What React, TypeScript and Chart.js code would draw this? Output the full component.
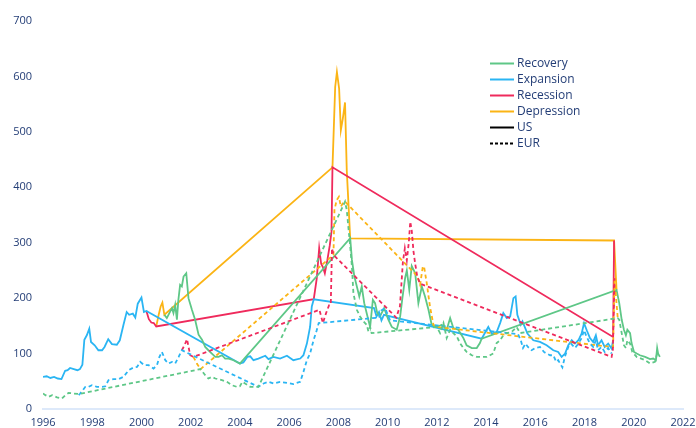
import { useEffect, useRef } from 'react';
import { Chart, registerables } from 'chart.js';

Chart.register(...registerables);

type Pt = [number, number];

// ---- data: [year, index value] ----
const usExpansion: Pt[] = [
  [1996.0, 58], [1996.15, 59], [1996.3, 56], [1996.45, 58], [1996.6, 55], [1996.75, 54], [1996.9, 69], [1997.0, 70],
  [1997.1, 74], [1997.25, 72], [1997.4, 70], [1997.5, 72], [1997.6, 80], [1997.68, 125], [1997.78, 133], [1997.88, 145],
  [1997.95, 121], [1998.1, 115], [1998.25, 106], [1998.4, 106], [1998.5, 112], [1998.65, 126], [1998.8, 117], [1999.0, 116],
  [1999.12, 124], [1999.27, 152], [1999.4, 175], [1999.5, 170], [1999.65, 172], [1999.75, 165], [1999.85, 190], [2000.0, 201],
  [2000.1, 175], [2000.2, 177],
  [2004.0, 82], [2004.14, 84], [2004.3, 94], [2004.42, 95], [2004.55, 88], [2004.75, 91], [2005.03, 96], [2005.16, 90],
  [2005.36, 94], [2005.63, 91], [2005.91, 96], [2006.17, 88], [2006.45, 91], [2006.58, 97], [2006.72, 118], [2006.85, 148],
  [2006.92, 185], [2007.0, 198],
  [2009.45, 182], [2009.55, 167], [2009.65, 175], [2009.75, 160], [2009.85, 170],
  [2013.82, 127], [2014.09, 148], [2014.23, 136], [2014.43, 139], [2014.57, 155], [2014.7, 173], [2014.84, 164], [2014.98, 167],
  [2015.11, 200], [2015.2, 203], [2015.27, 170], [2015.41, 152], [2015.48, 158], [2015.68, 136], [2015.92, 124], [2016.19, 121],
  [2016.46, 115], [2016.73, 106], [2016.93, 103], [2017.07, 94], [2017.21, 100], [2017.34, 115], [2017.48, 124], [2017.61, 118],
  [2017.75, 124], [2017.88, 136], [2017.98, 155], [2018.09, 142], [2018.22, 128], [2018.35, 121], [2018.46, 133], [2018.55, 115],
  [2018.69, 124], [2018.82, 112], [2018.96, 118], [2019.1, 109], [2019.16, 124],
];

const usRecession: Pt[] = [
  [2000.2, 177], [2000.3, 162], [2000.4, 156], [2000.5, 155], [2000.6, 149],
  [2007.0, 198], [2007.12, 235], [2007.22, 290], [2007.3, 262], [2007.38, 255], [2007.45, 245], [2007.55, 268], [2007.65, 295],
  [2007.72, 320], [2007.76, 436],
  [2019.16, 130], [2019.2, 304],
];

const usDepression: Pt[] = [
  [2000.6, 149], [2000.7, 170], [2000.78, 185], [2000.85, 192], [2000.93, 170],
  [2007.76, 436], [2007.87, 581], [2007.94, 608], [2008.03, 578], [2008.1, 503], [2008.18, 524], [2008.27, 553], [2008.34, 431],
  [2008.48, 308],
  [2019.2, 304], [2019.3, 215],
];

const usRecovery: Pt[] = [
  [2000.93, 170], [2001.03, 164], [2001.17, 176], [2001.24, 182], [2001.3, 173], [2001.37, 188], [2001.44, 161], [2001.5, 197],
  [2001.57, 224], [2001.64, 221], [2001.71, 239], [2001.82, 245], [2001.91, 200], [2002.05, 179], [2002.18, 161], [2002.32, 134],
  [2002.46, 125], [2002.59, 112], [2002.72, 106], [2002.86, 100], [2003.0, 94], [2003.13, 94], [2003.27, 97], [2003.4, 91],
  [2003.54, 91], [2003.74, 88], [2004.0, 82],
  [2008.48, 308], [2008.55, 269], [2008.65, 239], [2008.75, 221], [2008.85, 203], [2008.95, 221], [2009.05, 191], [2009.22, 160],
  [2009.29, 148], [2009.4, 197], [2009.49, 191], [2009.58, 173], [2009.69, 167], [2009.86, 182], [2010.03, 161], [2010.17, 148],
  [2010.37, 143], [2010.51, 167], [2010.6, 200], [2010.71, 236], [2010.78, 250], [2010.88, 215], [2010.98, 258], [2011.12, 245],
  [2011.25, 191], [2011.39, 221], [2011.52, 203], [2011.66, 179], [2011.79, 152], [2012.0, 148], [2012.2, 152], [2012.4, 143],
  [2012.54, 164], [2012.67, 146], [2012.87, 143], [2013.08, 128], [2013.21, 115], [2013.42, 110], [2013.62, 110], [2013.75, 119],
  [2013.82, 127],
  [2019.3, 215], [2019.41, 191], [2019.51, 161], [2019.6, 143], [2019.68, 133], [2019.74, 143], [2019.85, 137], [2019.91, 119],
  [2020.01, 103], [2020.12, 100], [2020.25, 97], [2020.46, 94], [2020.66, 90], [2020.79, 91], [2020.9, 88], [2020.95, 110],
  [2020.99, 100], [2021.06, 94],
];

const eurRecovery: Pt[] = [
  [1996.0, 28], [1996.1, 25], [1996.23, 22], [1996.37, 25], [1996.57, 21], [1996.77, 19], [1996.91, 25], [1997.04, 29],
  [1997.24, 28], [1997.45, 27],
  [2002.4, 72], [2002.59, 61], [2002.72, 55], [2002.86, 58], [2003.0, 55], [2003.27, 52], [2003.47, 49], [2003.67, 43],
  [2003.87, 40], [2004.0, 41], [2004.1, 49], [2004.21, 46], [2004.42, 40], [2004.75, 40],
  [2008.27, 374], [2008.34, 359], [2008.48, 293], [2008.55, 257], [2008.61, 209], [2008.75, 179], [2008.88, 167], [2009.02, 158],
  [2009.15, 152], [2009.22, 140], [2009.29, 148], [2009.35, 137],
  [2012.0, 148], [2012.13, 137], [2012.27, 155], [2012.4, 128], [2012.54, 143], [2012.67, 137], [2012.81, 131], [2012.94, 119],
  [2013.08, 110], [2013.21, 103], [2013.42, 97], [2013.62, 94], [2013.82, 94], [2014.03, 94], [2014.16, 97], [2014.29, 100],
  [2014.43, 119], [2014.57, 124], [2014.7, 133], [2014.84, 137], [2015.04, 139], [2015.24, 148], [2015.38, 137],
  [2019.35, 164], [2019.41, 161], [2019.51, 137], [2019.6, 115], [2019.68, 110], [2019.74, 124], [2019.85, 118], [2019.94, 103],
  [2020.12, 94], [2020.46, 88], [2020.66, 82], [2020.86, 85], [2020.95, 100], [2021.03, 97],
];

const eurExpansion: Pt[] = [
  [1997.45, 25], [1997.51, 28], [1997.62, 34], [1997.72, 40], [1997.85, 40], [1997.99, 43], [1998.19, 40], [1998.4, 40],
  [1998.53, 41], [1998.66, 52], [1998.87, 54], [1999.07, 54], [1999.27, 58], [1999.48, 70], [1999.68, 75], [1999.82, 76],
  [1999.95, 85], [2000.11, 79], [2000.29, 79], [2000.49, 73], [2000.63, 79], [2000.73, 94], [2000.83, 103], [2000.97, 88],
  [2001.1, 82], [2001.24, 85], [2001.37, 82], [2001.51, 94], [2001.64, 106],
  [2004.75, 40], [2004.96, 46], [2005.16, 49], [2005.36, 46], [2005.63, 49], [2005.91, 47], [2006.17, 45], [2006.45, 49],
  [2006.58, 67], [2006.72, 88], [2006.85, 100], [2006.99, 124], [2007.12, 142], [2007.2, 155],
  [2009.65, 165], [2009.75, 178], [2009.9, 182], [2010.03, 167], [2010.1, 160],
  [2015.3, 135], [2015.41, 124], [2015.5, 110], [2015.6, 118], [2015.7, 112], [2015.85, 106], [2016.0, 110], [2016.19, 112],
  [2016.35, 103], [2016.46, 100], [2016.6, 97], [2016.73, 97], [2016.85, 85], [2016.93, 88], [2017.1, 75], [2017.2, 94],
  [2017.34, 112], [2017.45, 118], [2017.61, 110], [2017.75, 118], [2017.88, 128], [2017.98, 142], [2018.09, 130], [2018.22, 118],
  [2018.35, 112], [2018.46, 124], [2018.55, 106], [2018.69, 112], [2018.82, 103], [2018.96, 110], [2019.1, 100],
];

const eurRecession: Pt[] = [
  [2001.64, 106], [2001.75, 115], [2001.85, 126], [2001.98, 97], [2002.11, 94],
  [2007.23, 179], [2007.37, 155], [2007.5, 173], [2007.62, 187], [2007.69, 188], [2007.74, 290], [2007.8, 278],
  [2010.35, 165], [2010.5, 185], [2010.62, 265], [2010.7, 290], [2010.78, 268], [2010.86, 300], [2010.92, 338], [2010.98, 322],
  [2011.05, 285], [2011.12, 262], [2011.2, 240], [2011.32, 226],
  [2019.1, 94], [2019.15, 106], [2019.22, 236],
];

const eurDepression: Pt[] = [
  [2002.11, 94], [2002.25, 82], [2002.4, 72],
  [2007.8, 278], [2007.84, 359], [2007.93, 377], [2008.02, 383], [2008.1, 365], [2008.18, 371], [2008.27, 374],
  [2011.2, 240], [2011.32, 224], [2011.43, 257], [2011.48, 257], [2011.59, 227], [2011.72, 185], [2011.86, 152], [2012.0, 148],
  [2019.1, 112], [2019.16, 112], [2019.22, 236], [2019.3, 190], [2019.35, 164],
];

const xMin = 1996;
const xMax = 2022;
const xStep = 2;
const yMin = 0;
const yMax = 700;
const yStep = 100;

const regimeLabels = ['Recovery', 'Expansion', 'Recession', 'Depression'];
const regionLabels = ['US', 'EUR'];

const COLORS = {
  recovery: '#5ec787',
  expansion: '#2ab5f3',
  recession: '#ef2a5c',
  depression: '#fbb415',
  text: '#233d76',
  axis: '#dde9fa',
};

const toXY = (pts: Pt[]) => pts.map(([x, y]) => ({ x, y }));

const DASH = [4, 3];

const legendPlugin = {
  id: 'customLegend',
  afterDraw(chart: any) {
    const ctx = chart.ctx as CanvasRenderingContext2D;
    const items = [
      { label: regimeLabels[0], color: COLORS.recovery, dash: [] as number[] },
      { label: regimeLabels[1], color: COLORS.expansion, dash: [] as number[] },
      { label: regimeLabels[2], color: COLORS.recession, dash: [] as number[] },
      { label: regimeLabels[3], color: COLORS.depression, dash: [] as number[] },
      { label: regionLabels[0], color: '#000000', dash: [] as number[] },
      { label: regionLabels[1], color: '#000000', dash: [3, 2] },
    ];
    const rows = [63.5, 79.5, 95.5, 111.5, 127.5, 143.5];
    ctx.save();
    items.forEach((it, i) => {
      ctx.beginPath();
      ctx.setLineDash(it.dash);
      ctx.strokeStyle = it.color;
      ctx.lineWidth = 2;
      ctx.moveTo(490, rows[i]);
      ctx.lineTo(514, rows[i]);
      ctx.stroke();
      ctx.setLineDash([]);
      ctx.fillStyle = COLORS.text;
      ctx.font = '12px "Open Sans"';
      ctx.textBaseline = 'middle';
      ctx.textAlign = 'left';
      ctx.fillText(it.label, 517, rows[i] + 0.5);
    });
    ctx.restore();
  },
};

export default function App() {
  const ref = useRef<HTMLCanvasElement | null>(null);

  useEffect(() => {
    if (!ref.current) return;
    const mk = (data: Pt[], color: string, dashed: boolean) => ({
      data: toXY(data),
      borderColor: color,
      backgroundColor: color,
      borderWidth: 1.8,
      borderDash: dashed ? DASH : [],
      pointRadius: 0,
      tension: 0,
      fill: false,
    });
    const chart = new Chart(ref.current, {
      type: 'line',
      data: {
        datasets: [
          mk(eurRecovery, COLORS.recovery, true),
          mk(eurExpansion, COLORS.expansion, true),
          mk(eurRecession, COLORS.recession, true),
          mk(eurDepression, COLORS.depression, true),
          mk(usRecovery, COLORS.recovery, false),
          mk(usExpansion, COLORS.expansion, false),
          mk(usRecession, COLORS.recession, false),
          mk(usDepression, COLORS.depression, false),
        ] as any,
      },
      options: {
        animation: false,
        responsive: false,
        maintainAspectRatio: false,
        layout: { padding: { top: 21, right: 13, bottom: 0, left: 0 } },
        plugins: { legend: { display: false }, tooltip: { enabled: false } },
        scales: {
          x: {
            type: 'linear',
            min: xMin,
            max: xMax,
            ticks: {
              stepSize: xStep,
              padding: 7,
              autoSkip: false,
              maxRotation: 0,
              color: COLORS.text,
              font: { family: '"Open Sans"', size: 11 },
              callback: (v: any) => String(v),
            },
            grid: { display: false, drawTicks: false },
            border: { display: true, color: COLORS.axis, width: 2 },
            afterFit: (s: any) => {
              s.height = 19;
              s.paddingLeft = 0;
              s.paddingRight = 0;
            },
          },
          y: {
            min: yMin,
            max: yMax,
            ticks: {
              stepSize: yStep,
              padding: 11,
              color: COLORS.text,
              font: { family: '"Open Sans"', size: 11 },
            },
            grid: { display: false, drawTicks: false },
            border: { display: false },
            afterFit: (s: any) => {
              s.width = 43;
              s.paddingTop = 0;
              s.paddingBottom = 0;
            },
          },
        },
      } as any,
      plugins: [legendPlugin],
    });
    return () => chart.destroy();
  }, []);

  return (
    <div style={{ position: 'absolute', left: 0, top: 0, width: 696, height: 428, background: '#fff' }}>
      <canvas ref={ref} width={696} height={428} style={{ display: 'block', width: 696, height: 428 }} />
    </div>
  );
}
